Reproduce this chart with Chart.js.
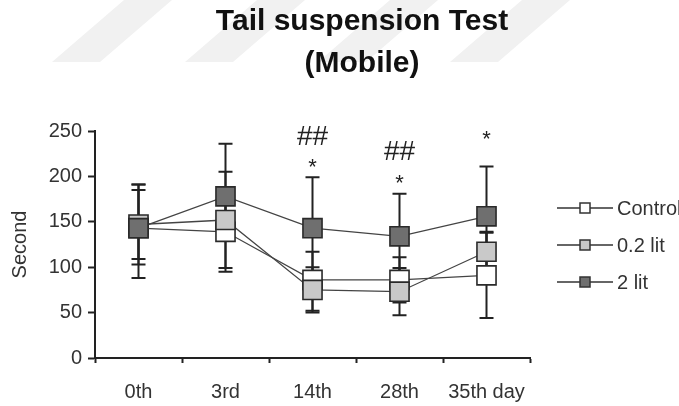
<!DOCTYPE html>
<html>
<head>
<meta charset="utf-8">
<script src="https://cdn.jsdelivr.net/npm/chart.js@4/dist/chart.umd.min.js"></script>
<style>
  html, body { margin: 0; padding: 0; background: #fff; }
  #wrap { width: 679px; height: 406px; position: relative; }
</style>
</head>
<body>
<div id="wrap"><canvas id="myChart"></canvas></div>
<script>
// values (seconds)
const days = ['0th', '3rd', '14th', '28th', '35th day'];
const seriesNames = ['Control', '0.2 lit', '2 lit'];

const control = [143, 139, 86, 86, 91];
const controlUp = [48, 44, 31, 25, 47];
const controlDown = [55, 44, 34, 25, 47];

const lit02 = [147, 152, 75, 73, 117];
const lit02Up = [38, 53, 25, 26, 22];
const lit02Down = [38, 53, 25, 26, 22];

const lit2 = [143, 178, 143, 134, 156];
const lit2Up = [48, 58, 56, 47, 55];
const lit2Down = [40, 48, 56, 47, 55];

// significance marks and the value level they sit at
const starMarks = [null, null, '*', '*', '*'];
const starLevel = [null, null, 215, 197, 246];
const hashMarks = [null, null, '##', '##', null];
const hashLevel = [null, null, 243, 227, null];

const fills = ['#ffffff', '#c9c9c9', '#6f6f6f'];

// faint diagonal watermark stripes behind the title
const stripes = {
  id: 'stripes',
  beforeDraw(chart) {
    const ctx = chart.ctx;
    ctx.save();
    ctx.fillStyle = '#f1f1f1';
    [52, 185, 318, 450].forEach(x0 => {
      ctx.beginPath();
      ctx.moveTo(x0, 62);
      ctx.lineTo(x0 + 48, 62);
      ctx.lineTo(x0 + 48 + 72, 0);
      ctx.lineTo(x0 + 72, 0);
      ctx.closePath();
      ctx.fill();
    });
    ctx.restore();
  }
};

const errorBars = {
  id: 'errorBars',
  beforeDatasetsDraw(chart) {
    const { ctx, scales: { x, y } } = chart;
    ctx.save();
    ctx.strokeStyle = '#222';
    ctx.lineWidth = 2;
    chart.data.datasets.forEach(ds => {
      ds.data.forEach((v, j) => {
        const px = x.getPixelForValue(j);
        const top = y.getPixelForValue(v + ds.errUp[j]);
        const bot = y.getPixelForValue(v - ds.errDown[j]);
        ctx.beginPath();
        ctx.moveTo(px, top); ctx.lineTo(px, bot);
        ctx.moveTo(px - 7, top); ctx.lineTo(px + 7, top);
        ctx.moveTo(px - 7, bot); ctx.lineTo(px + 7, bot);
        ctx.stroke();
      });
    });
    ctx.restore();
  }
};

const overlay = {
  id: 'overlay',
  afterDraw(chart) {
    const { ctx, scales: { x, y } } = chart;
    ctx.save();
    // title
    ctx.fillStyle = '#111';
    ctx.textAlign = 'center';
    ctx.textBaseline = 'middle';
    ctx.font = 'bold 30px "Liberation Sans", Arial, sans-serif';
    ctx.fillText('Tail suspension Test', 362, 22);
    ctx.fillText('(Mobile)', 362, 64);

    // significance marks
    ctx.fillStyle = '#222';
    ctx.font = '28px "Liberation Sans", Arial, sans-serif';
    hashMarks.forEach((m, j) => {
      if (m) ctx.fillText(m, x.getPixelForValue(j), y.getPixelForValue(hashLevel[j]));
    });
    ctx.font = '22px "Liberation Sans", Arial, sans-serif';
    starMarks.forEach((m, j) => {
      if (m) ctx.fillText(m, x.getPixelForValue(j), y.getPixelForValue(starLevel[j]) + 5);
    });

    // legend: line with square marker
    ctx.textAlign = 'left';
    ctx.font = '20px "Liberation Sans", Arial, sans-serif';
    chart.data.datasets.forEach((ds, i) => {
      const ly = 208 + i * 37;
      ctx.strokeStyle = '#333';
      ctx.lineWidth = 1.5;
      ctx.beginPath();
      ctx.moveTo(557, ly); ctx.lineTo(613, ly);
      ctx.stroke();
      ctx.fillStyle = ds.pointBackgroundColor;
      ctx.fillRect(580, ly - 5, 10, 10);
      ctx.strokeRect(580, ly - 5, 10, 10);
      ctx.fillStyle = '#333';
      ctx.fillText(ds.label, 617, ly + 1);
    });
    ctx.restore();
  }
};

function makeSet(label, values, up, down, fill, order) {
  return {
    label: label,
    data: values,
    errUp: up,
    errDown: down,
    order: order,
    borderColor: '#444',
    borderWidth: 1.3,
    tension: 0,
    fill: false,
    pointStyle: 'rect',
    pointRadius: 13.5,
    pointBackgroundColor: fill,
    pointBorderColor: '#2a2a2a',
    pointBorderWidth: 1.6
  };
}

const config = {
  type: 'line',
  data: {
    labels: days,
    datasets: [
      makeSet(seriesNames[0], control, controlUp, controlDown, fills[0], 3),
      makeSet(seriesNames[1], lit02, lit02Up, lit02Down, fills[1], 2),
      makeSet(seriesNames[2], lit2, lit2Up, lit2Down, fills[2], 1)
    ]
  },
  options: {
    responsive: true,
    maintainAspectRatio: false,
    animation: false,
    events: [],
    layout: { padding: { top: 131, right: 149, left: 0, bottom: 0 } },
    plugins: {
      legend: { display: false },
      title: { display: false },
      tooltip: { enabled: false }
    },
    scales: {
      x: {
        offset: true,
        grid: { offset: true, drawOnChartArea: false, tickLength: 5, tickWidth: 2, tickColor: '#222' },
        border: { display: true, color: '#222', width: 2 },
        ticks: { color: '#333', font: { size: 20, family: '"Liberation Sans", Arial, sans-serif' }, padding: 17, maxRotation: 0 },
        afterFit(scale) { scale.height = 48; }
      },
      y: {
        min: 0,
        max: 250,
        ticks: { stepSize: 50, color: '#333', font: { size: 20, family: '"Liberation Sans", Arial, sans-serif' }, padding: 6 },
        grid: { drawOnChartArea: false, tickLength: 7, tickWidth: 2, tickColor: '#222' },
        border: { display: true, color: '#222', width: 2 },
        title: {
          display: true,
          text: 'Second',
          color: '#333',
          font: { size: 20, family: '"Liberation Sans", Arial, sans-serif' },
          padding: { top: 8, bottom: 0 }
        },
        afterFit(scale) { scale.width = 95; }
      }
    }
  },
  plugins: [stripes, errorBars, overlay]
};

const ctx = document.getElementById('myChart').getContext('2d');
const grafica = new Chart(ctx, config);
</script>
</body>
</html>
